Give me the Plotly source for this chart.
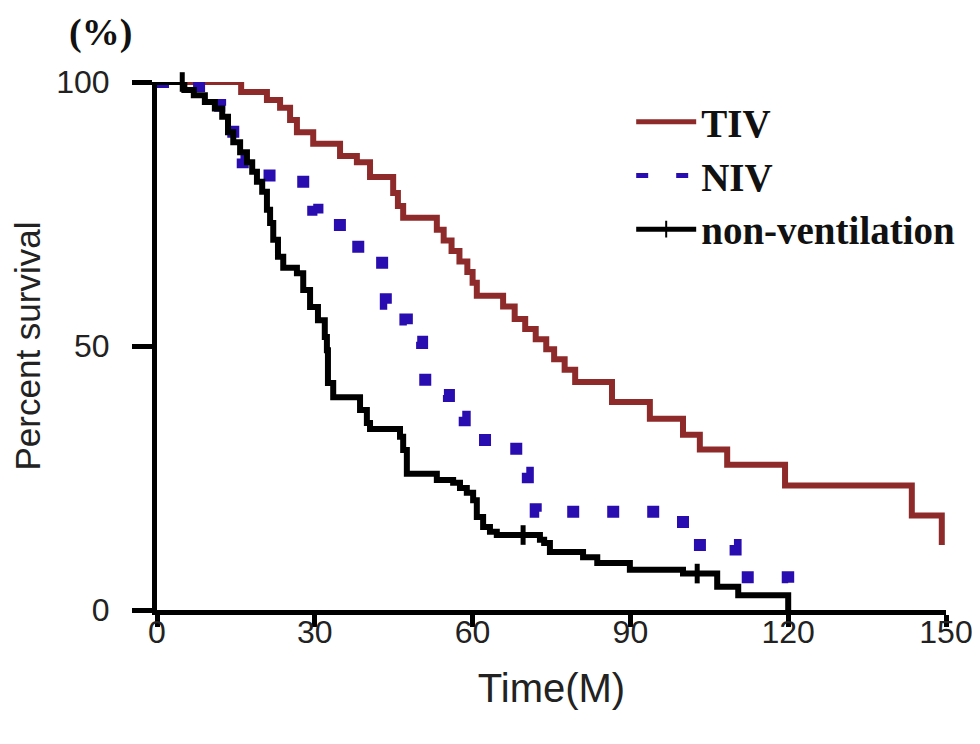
import plotly.graph_objects as go

# ---- data ----
tiv_t = [0, 16, 20.9, 23.4, 25.3, 26.6, 29.7, 34.8, 38, 40.5, 44.9, 45.8, 46.8,
         53.2, 54.5, 56, 57.5, 59, 60, 60.8, 65.8, 68, 70, 72, 74, 75.5, 77.5, 79.5,
         86.5, 93.7, 100, 103.2, 108.4, 119.4, 143.5, 149.2]
tiv_s = [100, 98.1, 96.6, 95.1, 92.8, 90.5, 88.3, 86.0, 84.8, 82.0, 79.0, 76.5, 74.3,
         72.0, 70.0, 68.0, 66.0, 64.0, 62.0, 59.5, 57.5, 55.1, 53.2, 51.3, 49.4, 47.5, 45.5, 43.2,
         39.4, 36.2, 33.2, 30.4, 27.5, 23.6, 17.9, 12.3]

niv_t = [0, 8, 12, 14, 14.5, 15.3, 16.3, 27.8, 29.7, 30.5, 36.5, 42.8, 43.5, 44.9,
         47.5, 49, 50.4, 51, 54.4, 55.5, 57, 58.5, 59.5, 68.3, 70.5, 72, 100, 110, 120]
niv_s = [100, 97.5, 95.5, 92, 88.5, 85.5, 82.3, 78.6, 75.8, 72.9, 68.8, 62, 58, 55,
         53, 50.8, 46, 42, 40.7, 38.5, 36.6, 34.5, 32.2, 26, 21.5, 18.6, 12.3, 6.2, 0]

nv_t = [0, 5.2, 7.0, 9.1, 11.0, 12.4, 13.5, 14.5, 15.8, 17.1, 18.1, 19.0, 20.0, 20.9,
        21.5, 22.1, 23.0, 24.0, 26.6, 27.8, 29.1, 30.6, 31.9, 32.3, 32.5, 33.5, 38.6,
        39.9, 40.5, 46.2, 46.8, 47.5, 53.2, 56.3, 57.6, 58.9, 60.1, 60.8, 62.0, 63.3,
        64.6, 72.8, 73.6, 74.7, 81.0, 83.7, 89.9, 100.0, 106.5, 110.5, 120.0]
nv_s = [100, 98.5, 97.5, 96.2, 95.0, 93.4, 90.5, 88.6, 86.7, 84.8, 83.0, 81.1, 79.2, 75.8,
        73.3, 70.1, 66.9, 64.8, 63.8, 60.6, 57.4, 54.9, 51.7, 49.2, 43.0, 40.3, 37.9,
        35.4, 34.3, 32.8, 30.3, 25.8, 24.6, 24.1, 23.1, 22.2, 20.8, 17.6, 15.7, 14.8,
        14.2, 13.3, 12.7, 11.0, 10.0, 8.9, 7.6, 6.9, 4.4, 2.8, 0]

# censored observations (tick marks) on the non-ventilation curve
nv_cens_t = [4.8, 69.6, 102.7]
nv_cens_s = [100, 14.2, 6.9]

x_ticks = [0, 30, 60, 90, 120, 150]
y_ticks = [0, 50, 100]

TIV_COLOR = "#8e2a2a"
NIV_COLOR = "#2a0db0"
NV_COLOR = "#000000"

# merge censor points into the non-ventilation series so the legend shows the tick
pts = sorted([(t, s, 0) for t, s in zip(nv_t, nv_s)] +
             [(t, s, 1) for t, s in zip(nv_cens_t, nv_cens_s)], key=lambda p: (p[0], -p[1]))
nv_x = [p[0] for p in pts]
nv_y = [p[1] for p in pts]
nv_size = [14 if p[2] else 0 for p in pts]

fig = go.Figure()
fig.add_trace(go.Scatter(x=tiv_t, y=tiv_s, name="TIV", mode="lines",
                         line=dict(shape="hv", color=TIV_COLOR, width=6),
                         cliponaxis=False))
fig.add_trace(go.Scatter(x=niv_t, y=niv_s, name="NIV", mode="lines",
                         line=dict(shape="hv", color=NIV_COLOR, width=12, dash="12px,28px"),
                         cliponaxis=False))
fig.add_trace(go.Scatter(x=nv_x, y=nv_y, name="non-ventilation", mode="lines+markers",
                         line=dict(shape="hv", color=NV_COLOR, width=6),
                         marker=dict(symbol="line-ns", size=nv_size, color=NV_COLOR, opacity=1,
                                     line=dict(color=NV_COLOR, width=5)),
                         cliponaxis=False))

axis_common = dict(showline=True, linecolor="black", linewidth=5, ticks="outside",
                   tickcolor="black", tickwidth=5, showgrid=False, zeroline=False,
                   ticklabeloverflow="allow", automargin=False,
                   tickfont=dict(family="Liberation Sans, Arial", size=32, color="#222"))

fig.update_xaxes(range=[0, 150], tickvals=x_ticks, ticklen=12, ticklabelstandoff=-22,
                 title=dict(text="Time(M)", font=dict(family="Liberation Sans, Arial", size=40, color="#222"),
                            standoff=26),
                 **axis_common)
fig.update_yaxes(range=[0, 100], tickvals=y_ticks, ticklen=20, ticklabelstandoff=16,
                 title=dict(text="Percent survival", font=dict(family="Liberation Sans, Arial", size=35, color="#222"),
                            standoff=30),
                 **axis_common)

fig.add_annotation(text="<b>(%)</b>", xref="paper", yref="paper", x=-0.072, y=1.094,
                   xanchor="center", yanchor="middle", showarrow=False,
                   font=dict(family="Liberation Serif, Times New Roman", size=38, color="#111"))

# the page body has an 8px margin, so the figure is sized 8px smaller and margins shifted
fig.update_layout(
    width=972, height=736,
    margin=dict(l=149, r=34, t=74, b=134, autoexpand=False),
    paper_bgcolor="white", plot_bgcolor="white",
    legend=dict(x=0.601, y=0.985, xanchor="left", yanchor="top",
                font=dict(family="Liberation Serif, Times New Roman", size=39, color="#111", weight="bold"),
                bgcolor="rgba(0,0,0,0)", itemsizing="constant", itemwidth=60),
)

fig.write_html("out.html")
